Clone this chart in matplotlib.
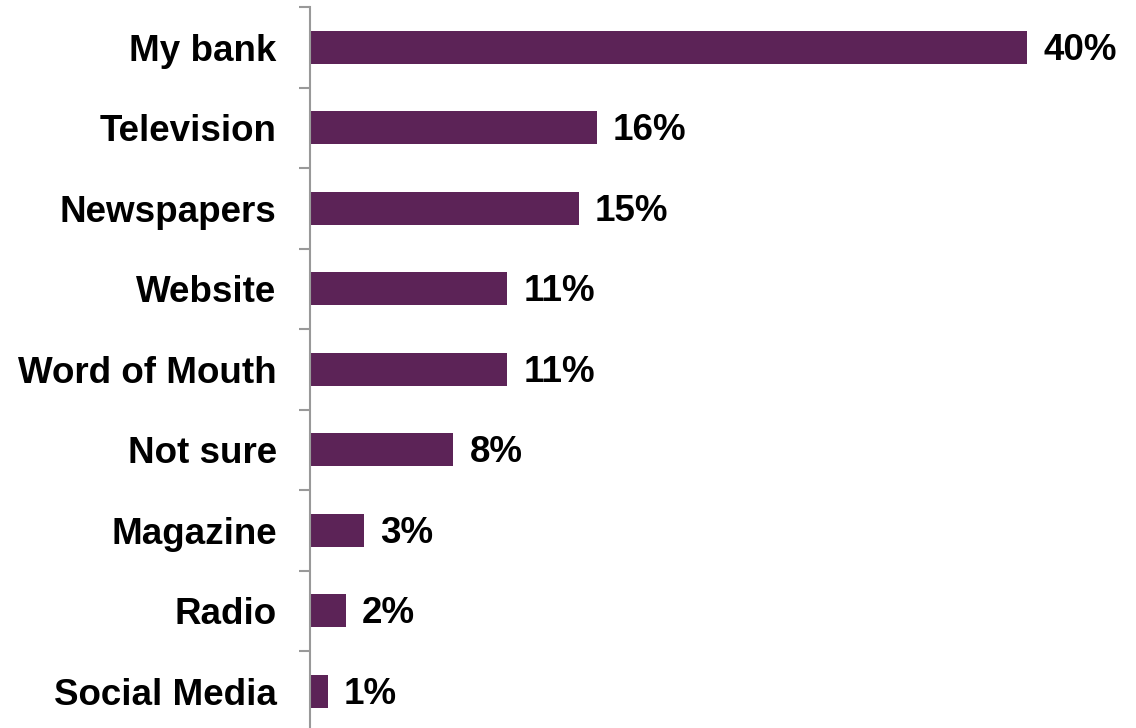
import matplotlib.pyplot as plt
import numpy as np

# Dados do gráfico (percentual de respostas)
categorias = ['My bank', 'Television', 'Newspapers', 'Website', 'Word of Mouth',
              'Not sure', 'Magazine', 'Radio', 'Social Media']
valores = [40, 16, 15, 11, 11, 8, 3, 2, 1]

cor_barra = '#5C2357'
cor_eixo = '#999999'

plt.rcParams['font.family'] = 'Liberation Sans'

fig = plt.figure(figsize=(11.36, 7.28), dpi=100)
ax = fig.add_axes([310 / 1136, -3.5 / 728, 826 / 1136, 724.5 / 728])

y = np.arange(len(categorias))
ax.barh(y, valores, height=0.41, color=cor_barra)

# Rótulos com os valores ao lado das barras
for yi, v in zip(y, valores):
    ax.text(v + 0.9, yi + 0.04, f'{v}%', va='center', ha='left',
            fontsize=26.5, fontweight='bold')

ax.set_xlim(0, 46.07)
ax.set_ylim(len(categorias) - 0.5, -0.5)

ax.set_yticks(y)
ax.set_yticklabels(categorias, fontsize=26.5, fontweight='bold')
ax.tick_params(axis='y', which='major', length=0, pad=24)
ax.set_yticks(np.arange(len(categorias) + 1) - 0.5, minor=True)
ax.tick_params(axis='y', which='minor', length=8, width=1.5, color=cor_eixo)

ax.set_xticks([])
for lado in ['top', 'right', 'bottom']:
    ax.spines[lado].set_visible(False)
ax.spines['left'].set_color(cor_eixo)
ax.spines['left'].set_linewidth(1.5)

plt.savefig('out.png', dpi=100)
